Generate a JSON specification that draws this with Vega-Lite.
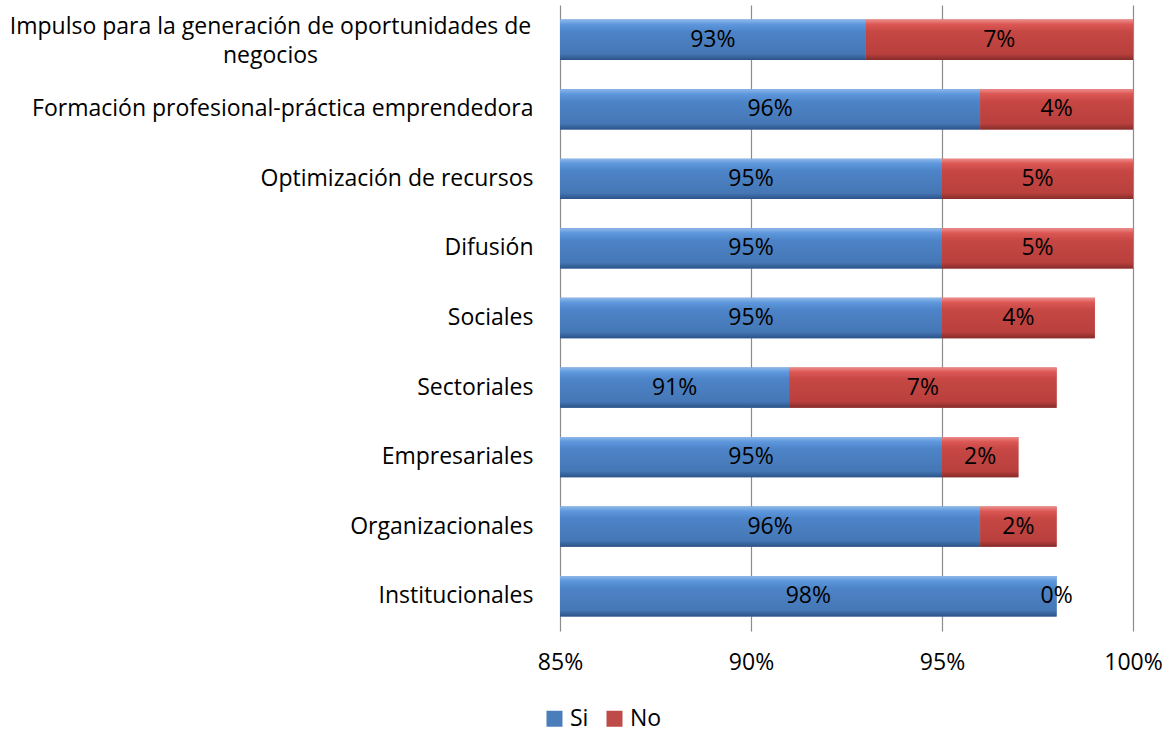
{
  "$schema": "https://vega.github.io/schema/vega-lite/v6.json",
  "autosize": "none",
  "width": 573,
  "height": 626,
  "padding": {"left": 560, "top": 5, "right": 36, "bottom": 102},
  "background": "white",
  "config": {
    "view": {"stroke": null},
    "font": "Open Sans",
    "axis": {"labelFont": "Open Sans", "labelColor": "black", "labelFontSize": 23}
  },
  "data": {
    "values": [
      {"cat": "Impulso para la generación de oportunidades de negocios", "resp": "Si", "ord": 1, "pct": 93},
      {"cat": "Impulso para la generación de oportunidades de negocios", "resp": "No", "ord": 2, "pct": 7},
      {"cat": "Formación profesional-práctica emprendedora", "resp": "Si", "ord": 1, "pct": 96},
      {"cat": "Formación profesional-práctica emprendedora", "resp": "No", "ord": 2, "pct": 4},
      {"cat": "Optimización de recursos", "resp": "Si", "ord": 1, "pct": 95},
      {"cat": "Optimización de recursos", "resp": "No", "ord": 2, "pct": 5},
      {"cat": "Difusión", "resp": "Si", "ord": 1, "pct": 95},
      {"cat": "Difusión", "resp": "No", "ord": 2, "pct": 5},
      {"cat": "Sociales", "resp": "Si", "ord": 1, "pct": 95},
      {"cat": "Sociales", "resp": "No", "ord": 2, "pct": 4},
      {"cat": "Sectoriales", "resp": "Si", "ord": 1, "pct": 91},
      {"cat": "Sectoriales", "resp": "No", "ord": 2, "pct": 7},
      {"cat": "Empresariales", "resp": "Si", "ord": 1, "pct": 95},
      {"cat": "Empresariales", "resp": "No", "ord": 2, "pct": 2},
      {"cat": "Organizacionales", "resp": "Si", "ord": 1, "pct": 96},
      {"cat": "Organizacionales", "resp": "No", "ord": 2, "pct": 2},
      {"cat": "Institucionales", "resp": "Si", "ord": 1, "pct": 98},
      {"cat": "Institucionales", "resp": "No", "ord": 2, "pct": 0}
    ]
  },
  "transform": [
    {"stack": "pct", "groupby": ["cat"], "sort": [{"field": "ord", "order": "ascending"}], "as": ["x0", "x1"]},
    {"calculate": "max(datum.x0, 85)", "as": "xs"},
    {"calculate": "(datum.xs + datum.x1) / 2", "as": "mid"},
    {"calculate": "datum.pct + '%'", "as": "label"}
  ],
  "encoding": {
    "y": {
      "field": "cat",
      "type": "nominal",
      "sort": null,
      "scale": {"paddingInner": 0.42, "paddingOuter": 0.21},
      "axis": {
        "title": null,
        "domain": false,
        "ticks": false,
        "labelLimit": 600,
        "labelLineHeight": 29,
        "labelPadding": {"condition": {"test": "datum.value === 'Impulso para la generación de oportunidades de negocios'", "value": 290}, "value": 27},
        "labelOffset": {"condition": {"test": "datum.value === 'Impulso para la generación de oportunidades de negocios'", "value": -13}, "value": 0},
        "labelAlign": {"condition": {"test": "datum.value === 'Impulso para la generación de oportunidades de negocios'", "value": "center"}, "value": "right"},
        "labelExpr": "datum.value === 'Impulso para la generación de oportunidades de negocios' ? ['Impulso para la generación de oportunidades de', 'negocios'] : datum.value"
      }
    }
  },
  "layer": [
    {
      "mark": {"type": "bar", "clip": true},
      "encoding": {
        "x": {
          "field": "xs",
          "type": "quantitative",
          "scale": {"domain": [85, 100], "nice": false, "zero": false},
          "axis": {
            "title": null,
            "values": [85, 90, 95, 100],
            "labelExpr": "datum.value + '%'",
            "labelFlush": false,
            "domain": false,
            "ticks": false,
            "labelPadding": 20,
            "grid": true,
            "gridColor": "#8c8c8c",
            "gridWidth": 1.2
          }
        },
        "x2": {"field": "x1"},
        "color": {
          "field": "resp",
          "type": "nominal",
          "scale": {"domain": ["Si", "No"], "range": ["#4A7EBB", "#BE4B48"]},
          "legend": {
            "title": null,
            "orient": "none",
            "direction": "horizontal",
            "legendX": -17,
            "legendY": 702,
            "symbolType": "square",
            "symbolSize": 256,
            "symbolStrokeWidth": 0,
            "labelFontSize": 23,
            "labelFont": "Open Sans",
            "labelColor": "black",
            "labelOffset": 4,
            "columnPadding": 14
          }
        }
      }
    },
    {
      "mark": {"type": "bar", "clip": true},
      "encoding": {
        "x": {"field": "xs", "type": "quantitative"},
        "x2": {"field": "x1"},
        "fill": {
          "condition": {
            "test": "datum.resp === 'Si'",
            "value": {"gradient": "linear", "x1": 0, "y1": 0, "x2": 0, "y2": 1, "stops": [
              {"offset": 0, "color": "#8DB8EA"},
              {"offset": 0.12, "color": "#5E97DC"},
              {"offset": 0.3, "color": "#4D84C8"},
              {"offset": 0.85, "color": "#4577B5"},
              {"offset": 1, "color": "#2C5287"}
            ]}
          },
          "value": {"gradient": "linear", "x1": 0, "y1": 0, "x2": 0, "y2": 1, "stops": [
            {"offset": 0, "color": "#EE8C8A"},
            {"offset": 0.12, "color": "#DB5754"},
            {"offset": 0.3, "color": "#C64744"},
            {"offset": 0.85, "color": "#B9403D"},
            {"offset": 1, "color": "#852C2A"}
          ]}
        }
      }
    },
    {
      "mark": {"type": "text", "font": "Open Sans", "fontSize": 23, "color": "black", "baseline": "middle"},
      "encoding": {
        "x": {"field": "mid", "type": "quantitative"},
        "text": {"field": "label"}
      }
    }
  ]
}
